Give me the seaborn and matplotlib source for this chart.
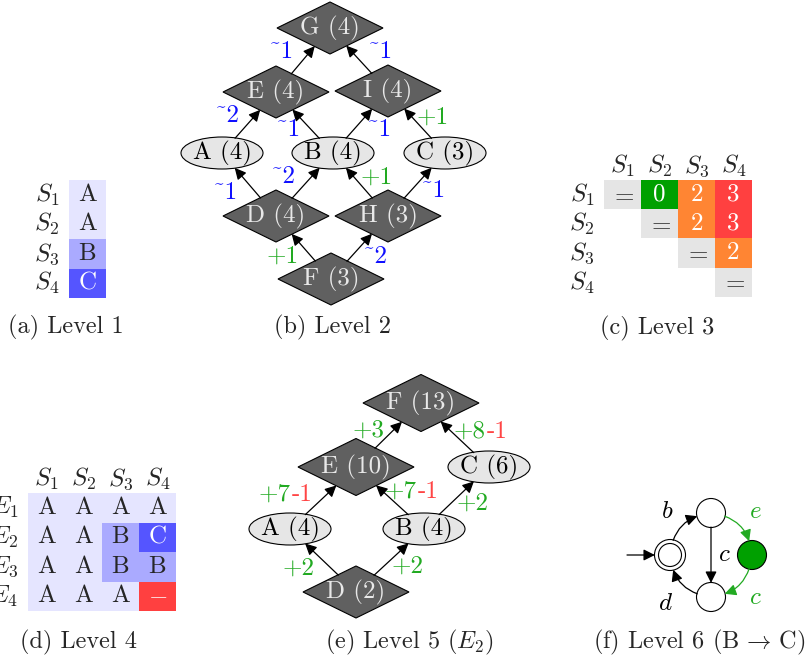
import matplotlib
matplotlib.use("Agg")
import matplotlib.pyplot as plt
from matplotlib.colors import ListedColormap
from matplotlib.patches import Polygon, Ellipse, Circle
import numpy as np
import seaborn as sns

sns.set_theme(style="white")
plt.rcParams["font.family"] = ["cmr10", "DejaVu Serif"]
plt.rcParams["mathtext.fontset"] = "cm"
plt.rcParams["axes.unicode_minus"] = False

# ---------------- data ----------------
states = ["$S_1$", "$S_2$", "$S_3$", "$S_4$"]
execs = ["$E_1$", "$E_2$", "$E_3$", "$E_4$"]

# level 1: class of each state
level1_cls = ["A", "A", "B", "C"]

# level 3: pairwise distance (upper triangle), '=' on the diagonal
level3_dist = [["=", "0", "2", "3"],
               ["", "=", "2", "3"],
               ["", "", "=", "2"],
               ["", "", "", "="]]

# level 4: class per execution and state
level4_cls = [["A", "A", "A", "A"],
              ["A", "A", "B", "C"],
              ["A", "A", "B", "B"],
              ["A", "A", "A", "-"]]

# level 2 lattice
lvl2_nodes = ["G", "E", "I", "A", "B", "C", "D", "H", "F"]
lvl2_count = [4, 4, 4, 4, 4, 3, 4, 3, 3]
lvl2_src = ["E", "I", "A", "B", "B", "C", "D", "D", "H", "H", "F", "F"]
lvl2_dst = ["G", "G", "E", "E", "I", "I", "A", "B", "B", "C", "D", "H"]
lvl2_op = ["~", "~", "~", "~", "~", "+", "~", "~", "+", "~", "+", "~"]
lvl2_val = [1, 1, 2, 1, 1, 1, 1, 2, 1, 1, 1, 2]

# level 5 lattice (E2)
lvl5_nodes = ["F", "E", "C", "A", "B", "D"]
lvl5_count = [13, 10, 6, 4, 4, 2]
lvl5_src = ["E", "C", "A", "B", "B", "D", "D"]
lvl5_dst = ["F", "F", "E", "E", "C", "A", "B"]
lvl5_gain = [3, 8, 7, 7, 2, 2, 2]
lvl5_loss = [0, 1, 1, 1, 0, 0, 0]

# level 6 automaton
lvl6_src = ["s0", "t", "b", "t", "g"]
lvl6_dst = ["t", "b", "s0", "g", "b"]
lvl6_sym = ["b", "c", "d", "e", "c"]
lvl6_new = [False, False, False, True, True]

captions = ["(a) Level 1", "(b) Level 2", "(c) Level 3",
            "(d) Level 4", "(e) Level 5 ($E_2$)", r"(f) Level 6 (B$\,\rightarrow\,$C)"]

# ---------------- layout / style ----------------
W, H = 807, 660
FS = 18      # cells, nodes, labels
FS_CAP = 17.5
DARK, LIGHT, PALE = "#606060", "#e8e8e8", "#e6e6e6"
BLUE, GREEN, RED, DGREEN = "#1010ff", "#22aa22", "#ff4545", "#00a000"

lvl2_pos = {"G": (330, 28), "E": (276, 92), "I": (388, 91), "A": (222, 153),
            "B": (333, 153), "C": (445, 153), "D": (276, 216), "H": (388, 216),
            "F": (331, 279)}
lvl2_shape = {n: ("e" if n in "ABC" else "d") for n in lvl2_nodes}
lvl2_lbl = [(281, 52), (380, 52), (227, 116), (288, 130), (379, 130), (433, 118),
            (225, 193), (283, 177), (377, 178), (433, 191), (283, 257), (375, 257)]

lvl5_pos = {"F": (421, 403), "E": (356, 467), "C": (489, 467), "A": (290, 529),
            "B": (424, 529), "D": (356, 592)}
lvl5_shape = {n: ("e" if n in "ABC" else "d") for n in lvl5_nodes}
lvl5_lbl = [(369, 431), (486, 432), (291, 495), (417, 492), (473, 504), (299, 569), (408, 567)]

lvl6_pos = {"s0": (670, 555), "t": (711, 513), "b": (711, 597), "g": (752, 555)}
lvl6_lbl = [(667, 512), (724, 555), (666, 604), (755, 512), (755, 598)]
lvl6_rad = [-0.4, 0.0, -0.4, -0.4, -0.4]

cap_pos = [(66, 327, "center"), (333, 327, "center"), (657, 328, "center"),
           (79, 642, "center"), (409, 642, "center"), (805, 642, "right")]

fig = plt.figure(figsize=(W / 100, H / 100), dpi=100)


def px_rect(x0, y0, x1, y1):
    return [x0 / W, 1 - y1 / H, (x1 - x0) / W, (y1 - y0) / H]


def grid(rect, labels, codes, colors, rows, cols, pad):
    ax = fig.add_axes(px_rect(*rect))
    lab = np.array(labels)
    vals = np.array([[codes.get(v, 0) for v in r] for r in labels], dtype=float)
    show = np.where(lab == "-", "$-$", np.where(lab == "=", "$=$", lab))
    sns.heatmap(vals, ax=ax, cmap=ListedColormap(colors), vmin=-0.5,
                vmax=len(colors) - 0.5, cbar=False, annot=show, fmt="",
                annot_kws={"fontsize": FS}, mask=(lab == ""), linewidths=0,
                xticklabels=cols if cols else False, yticklabels=rows)
    ax.set_yticklabels(rows, rotation=0)
    ax.tick_params(length=0, labelsize=FS, pad=pad)
    if cols:
        ax.xaxis.tick_top()
        ax.tick_params(axis="x", pad=1)
    return ax


cls_colors = ["#e5e5ff", "#aaaaff", "#5555ff", "#ff4040"]
cls_codes = {"A": 0, "B": 1, "C": 2, "-": 3}
grid((69, 180, 106, 298), [[c] for c in level1_cls], cls_codes, cls_colors, states, None, 7)
grid((604, 180, 752, 297), level3_dist, {"=": 0, "0": 1, "2": 2, "3": 3},
     ["#e5e5e5", "#00a000", "#ff8533", "#ff4040"], states, states, 7)
grid((28, 493, 176, 611), level4_cls, cls_codes, cls_colors, execs, states, 7)

# overlay in pixel coordinates for the graphs
ax = fig.add_axes([0, 0, 1, 1])
ax.set_xlim(0, W)
ax.set_ylim(H, 0)
ax.axis("off")


def add_node(x, y, kind, text):
    if kind == "d":
        w, h = (116, 57) if len(text) > 5 else (106, 52)
        p = Polygon([(x - w / 2, y), (x, y - h / 2), (x + w / 2, y), (x, y + h / 2)],
                    closed=True, fc=DARK, ec="black", lw=0.8)
        tc = LIGHT
    else:
        p = Ellipse((x, y), 82, 32, fc=PALE, ec="black", lw=0.8)
        tc = "black"
    ax.add_patch(p)
    ax.text(x, y, text, ha="center", va="center", color=tc, fontsize=FS)
    return p


def arrow(pa, pb, a, b, color="black", rad=0.0):
    ax.annotate("", xy=b, xytext=a,
                arrowprops=dict(arrowstyle="-|>", color=color, lw=0.9,
                                mutation_scale=17, patchA=pa, patchB=pb,
                                shrinkA=0, shrinkB=0,
                                connectionstyle=f"arc3,rad={rad}"))


# level 2
p2 = {}
for n, c in zip(lvl2_nodes, lvl2_count):
    p2[n] = add_node(*lvl2_pos[n], lvl2_shape[n], f"{n} ({c})")
for s, d, op, v, (lx, ly) in zip(lvl2_src, lvl2_dst, lvl2_op, lvl2_val, lvl2_lbl):
    arrow(p2[s], p2[d], lvl2_pos[s], lvl2_pos[d])
    ax.text(lx, ly, f"{op}{v}", ha="center", va="center", fontsize=FS,
            color=GREEN if op == "+" else BLUE)

# level 5
p5 = {}
for n, c in zip(lvl5_nodes, lvl5_count):
    p5[n] = add_node(*lvl5_pos[n], lvl5_shape[n], f"{n} ({c})")
for s, d, g, l, (lx, ly) in zip(lvl5_src, lvl5_dst, lvl5_gain, lvl5_loss, lvl5_lbl):
    arrow(p5[s], p5[d], lvl5_pos[s], lvl5_pos[d])
    if l:
        ax.text(lx, ly, f"+{g}", ha="right", va="center", fontsize=FS, color=GREEN)
        ax.text(lx + 1, ly, f"-{l}", ha="left", va="center", fontsize=FS, color=RED)
    else:
        ax.text(lx, ly, f"+{g}", ha="center", va="center", fontsize=FS, color=GREEN)

# level 6
p6 = {}
for n, (x, y) in lvl6_pos.items():
    fc = DGREEN if n == "g" else "white"
    p6[n] = Circle((x, y), 15.5 if n == "s0" else 14.5, fc=fc, ec="black", lw=0.8)
    ax.add_patch(p6[n])
ax.add_patch(Circle(lvl6_pos["s0"], 11.5, fc="white", ec="black", lw=0.8))
ax.annotate("", xy=lvl6_pos["s0"], xytext=(627, 555),
            arrowprops=dict(arrowstyle="-|>", color="black", lw=0.9, mutation_scale=17,
                            patchB=p6["s0"], shrinkA=0, shrinkB=0))
for s, d, sym, new, rad, (lx, ly) in zip(lvl6_src, lvl6_dst, lvl6_sym, lvl6_new, lvl6_rad, lvl6_lbl):
    col = GREEN if new else "black"
    arrow(p6[s], p6[d], lvl6_pos[s], lvl6_pos[d], color=col, rad=rad)
    ax.text(lx, ly, f"${sym}$", ha="center", va="center", fontsize=FS, color=col)

for t, (x, y, ha) in zip(captions, cap_pos):
    ax.text(x, y, t, ha=ha, va="center", fontsize=FS_CAP)

fig.savefig("out.png", dpi=100)
